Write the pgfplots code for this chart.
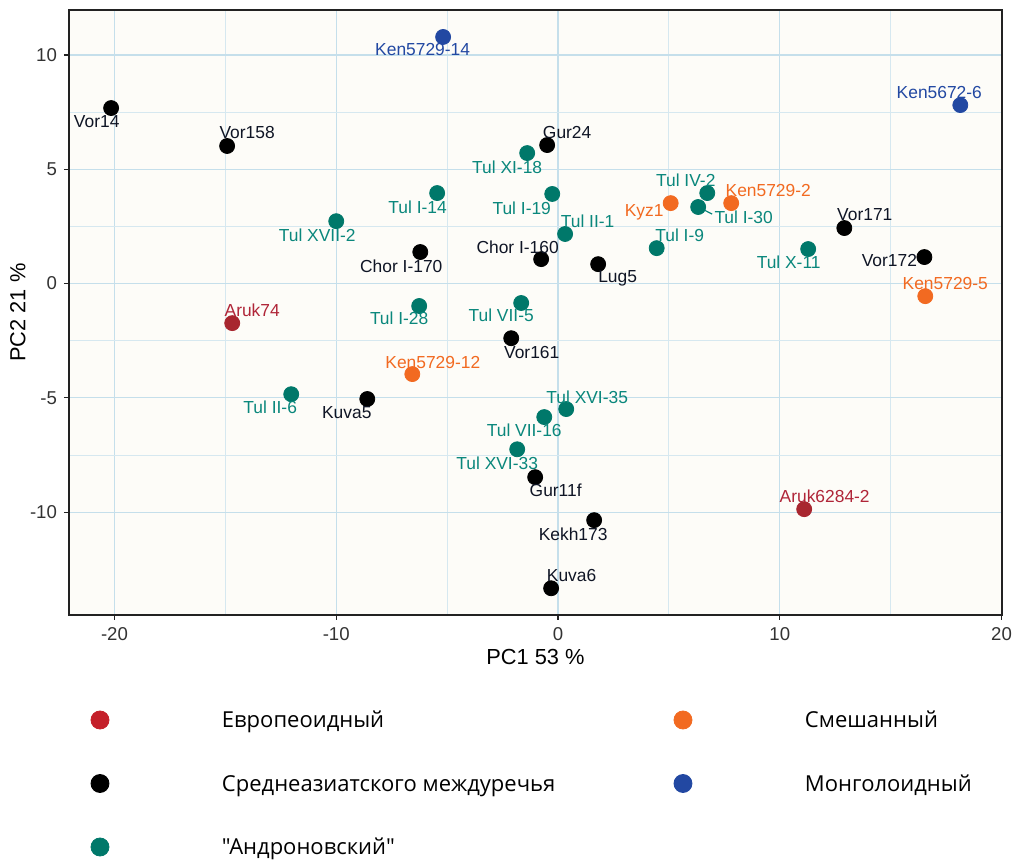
\documentclass[border=0pt]{standalone}
\usepackage{pgfplots}
\pgfplotsset{compat=1.18}
\usepackage{pgfplotstable}
\usepackage{fontspec}
\setmainfont{Liberation Sans}
\newfontfamily\legfont{Open Sans}

% group colours
\definecolor{cred}{HTML}{A8262F}
\definecolor{credleg}{HTML}{C4202A}
\definecolor{credlab}{HTML}{B02538}
\definecolor{corange}{HTML}{F26A21}
\definecolor{cblue}{HTML}{2248A2}
\definecolor{cteal}{HTML}{00786A}
\definecolor{ctealab}{HTML}{0A877C}
\definecolor{cblack}{HTML}{000000}
\definecolor{cblacklab}{HTML}{0F1525}
\definecolor{panelbg}{HTML}{FDFCF8}
\definecolor{gridmaj}{HTML}{C5DFEB}
\definecolor{gridmin}{HTML}{D6E8F0}
\definecolor{axgray}{HTML}{222222}
\definecolor{tickgray}{HTML}{333333}

% x, y, label offset (pt), label
\pgfplotstableread[col sep=comma,row sep=\\]{
x,y,dx,dy,label\\
-14.69,-1.73,10,6.5,Aruk74\\
11.10,-9.87,10.25,6.5,Aruk6284-2\\
}\eur

\pgfplotstableread[col sep=comma,row sep=\\]{
x,y,dx,dy,label\\
-20.15,7.68,-7.2,-7,Vor14\\
-14.92,6.02,10,6.5,Vor158\\
-0.49,6.06,10,6.5,Gur24\\
-0.76,1.07,-11.75,6,Chor I-160\\
-6.21,1.38,-9.5,-7,Chor I-170\\
1.81,0.85,9.75,-7,Lug5\\
12.91,2.43,10.25,6.5,Vor171\\
16.52,1.16,-17.5,-1.5,Vor172\\
-2.11,-2.39,10.25,-7,Vor161\\
-8.60,-5.05,-10.25,-7,Kuva5\\
-1.03,-8.47,10.25,-6.5,Gur11f\\
1.63,-10.35,-10.5,-7,Kekh173\\
-0.31,-13.33,10.25,6.5,Kuva6\\
}\central

\pgfplotstableread[col sep=comma,row sep=\\]{
x,y,dx,dy,label\\
-10.00,2.73,-9.5,-7,Tul XVII-2\\
-12.03,-4.84,-10.5,-6.5,Tul II-6\\
-1.39,5.71,-10,-7,Tul XI-18\\
-5.45,3.96,-9.75,-7,Tul I-14\\
-0.26,3.92,-15.25,-7,Tul I-19\\
0.32,2.17,11.25,6.5,Tul II-1\\
4.45,1.55,11.5,6.5,Tul I-9\\
6.73,3.96,-10.75,6.5,Tul IV-2\\
6.32,3.35,22.75,-5,Tul I-30\\
11.28,1.51,-9.75,-6.5,Tul X-11\\
-6.26,-0.98,-10,-6,Tul I-28\\
-1.66,-0.85,-10,-6,Tul VII-5\\
0.37,-5.49,10.5,6,Tul XVI-35\\
-0.62,-5.84,-10,-6.5,Tul VII-16\\
-1.84,-7.25,-10,-7,Tul XVI-33\\
}\andr

\pgfplotstableread[col sep=comma,row sep=\\]{
x,y,dx,dy,label\\
5.08,3.52,-13.25,-4.5,Kyz1\\
7.81,3.52,18.5,6.5,Ken5729-2\\
16.56,-0.55,10,6.5,Ken5729-5\\
-6.57,-3.96,10.25,6,Ken5729-12\\
}\mixed

\pgfplotstableread[col sep=comma,row sep=\\]{
x,y,dx,dy,label\\
-5.18,10.79,-10.25,-6.5,Ken5729-14\\
18.14,7.81,-10.5,6.5,Ken5672-6\\
}\mong

\begin{document}
\begin{tikzpicture}
\pgfplotsset{
  pts/.style={only marks, mark=*, mark size=3.75pt, forget plot,
    mark options={draw=none, fill=#1}, color=#1},
  labs/.style={nodes near coords, point meta=explicit symbolic,
    visualization depends on={\thisrow{dx}\as\dx},
    visualization depends on={\thisrow{dy}\as\dy},
    every node near coord/.append style={anchor=center, inner sep=0pt,
      xshift=\dx pt, yshift=\dy pt, text=#1,
      font=\fontsize{8.7}{10}\selectfont}},
}
\begin{axis}[
  name=ax,
  scale only axis,
  width=466.5pt, height=302.5pt,
  xmin=-22.05, xmax=20.02,
  ymin=-14.5, ymax=11.97,
  xtick={-20,-10,0,10,20},
  ytick={-10,-5,0,5,10},
  minor x tick num=1, minor y tick num=1,
  minor tick length=0pt,
  major tick length=2.5pt,
  tick align=outside,
  tick pos=left,
  grid=both,
  major grid style={gridmaj, line width=0.6pt},
  minor grid style={gridmin, line width=0.45pt},
  axis line style={axgray, line width=0.7pt},
  every tick/.style={axgray, line width=0.6pt},
  axis background/.style={fill=panelbg},
  /pgf/number format/assume math mode=true,
  ticklabel style={font=\fontsize{9.3}{11}\selectfont, text=tickgray},
  xlabel={PC1 53 \%},
  ylabel={PC2 21 \%},
  label style={font=\fontsize{10.9}{13}\selectfont},
  xlabel style={at={(axis description cs:0.5,-0.0694)}, anchor=center},
  ylabel style={at={(axis description cs:-0.0547,0.5)}, anchor=center},
  legend columns=2,
  legend style={at={(axis description cs:0,0)}, anchor=north west,
    xshift=10.5pt, yshift=-44.4pt,
    draw=none, fill=none, inner sep=0pt, outer sep=0pt,
    row sep=9.75pt, column sep=0pt,
    nodes={inner sep=0pt},
    cells={anchor=base west},
    font=\legfont\fontsize{11}{13}\selectfont},
  legend image code/.code={
    \fill[#1] (0pt,3.9pt) circle (4.5pt);
    \path[draw=none, fill=none] (-5pt,-10pt) rectangle (61pt,12pt);},
]
\addlegendimage{credleg}
\addlegendentry{\makebox[225.5pt][l]{Европеоидный}}
\addlegendimage{corange}
\addlegendentry{Смешанный}
\addlegendimage{cblack}
\addlegendentry{\makebox[225.5pt][l]{Среднеазиатского междуречья}}
\addlegendimage{cblue}
\addlegendentry{Монголоидный}
\addlegendimage{cteal}
\addlegendentry{\makebox[225.5pt][l]{"Андроновский"}}

\draw[ctealab, line width=0.6pt] (axis cs:6.55,3.24) -- (axis cs:6.95,3.04);

\addplot[pts=cteal, labs=ctealab] table[x=x, y=y, meta=label] {\andr};
\addplot[pts=cblack, labs=cblacklab] table[x=x, y=y, meta=label] {\central};
\addplot[pts=cred, labs=credlab] table[x=x, y=y, meta=label] {\eur};
\addplot[pts=corange, labs=corange] table[x=x, y=y, meta=label] {\mixed};
\addplot[pts=cblue, labs=cblue] table[x=x, y=y, meta=label] {\mong};
\end{axis}
\pgfresetboundingbox
\path ([xshift=-34.5pt,yshift=-123.5pt]ax.south west) rectangle ([xshift=6pt,yshift=5pt]ax.north east);
\end{tikzpicture}
\end{document}
